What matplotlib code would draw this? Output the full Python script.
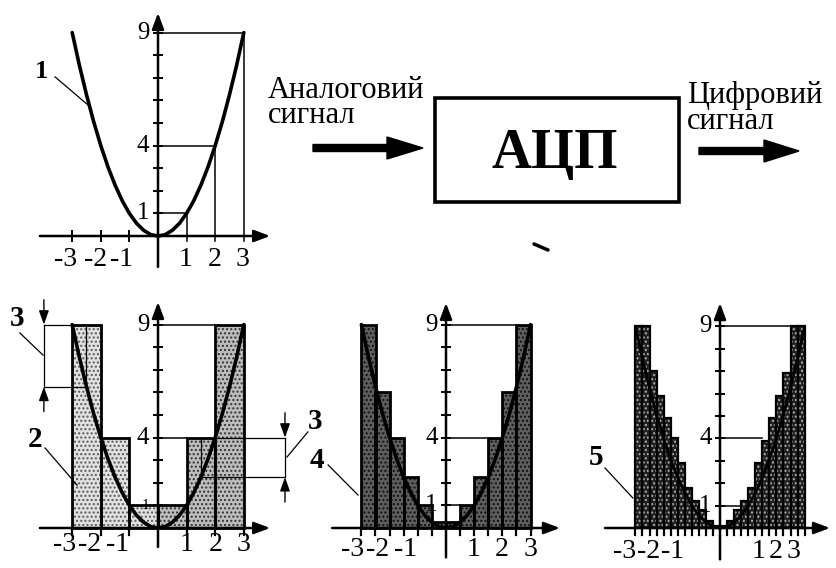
import matplotlib
matplotlib.use('Agg')
import matplotlib.pyplot as plt
from matplotlib.patches import Rectangle, FancyArrow

plt.rcParams['font.family'] = ['Liberation Serif', 'DejaVu Serif']
plt.rcParams['hatch.linewidth'] = 1.0

# ---------------- data ----------------
tick_values = [-3, -2, -1, 1, 2, 3]
tick_labels = ['-3', '-2', '-1', '1', '2', '3']
level_labels = [1, 4, 9]
grid_levels = [1, 2, 3, 4, 5, 6, 7, 8, 9]
sample_x = [1, 2, 3]

# analog signal (parabola)
curve_x = [-3, -2.75, -2.5, -2.25, -2, -1.75, -1.5, -1.25, -1, -0.75, -0.5, -0.25, 0,
           0.25, 0.5, 0.75, 1, 1.25, 1.5, 1.75, 2, 2.25, 2.5, 2.75, 3]
curve_y = [9, 7.56, 6.25, 5.06, 4, 3.06, 2.25, 1.56, 1, 0.56, 0.25, 0.06, 0,
           0.06, 0.25, 0.56, 1, 1.56, 2.25, 3.06, 4, 5.06, 6.25, 7.56, 9]

# panel 2: coarse quantisation (step 1)
p2_edges = [-3, -2, -1, 0, 1, 2]
p2_heights = [9, 4, 1, 1, 4, 9]
p2_width = 1.0

# panel 3: step 0.5
p3_edges = [-3, -2.5, -2, -1.5, -1, -0.5, 0, 0.5, 1, 1.5, 2, 2.5]
p3_heights = [9, 6, 4, 2.25, 1, 0.25, 0.25, 1, 2.25, 4, 6, 9]
p3_width = 0.5

# panel 4: step 0.25
p4_edges = [-3, -2.75, -2.5, -2.25, -2, -1.75, -1.5, -1.25, -1, -0.75, -0.5, -0.25,
            0, 0.25, 0.5, 0.75, 1, 1.25, 1.5, 1.75, 2, 2.25, 2.5, 2.75]
p4_heights = [9, 9, 7.0, 5.9, 4.9, 4.0, 2.9, 1.8, 1.2, 0.8, 0.3, 0.1,
              0.1, 0.3, 0.8, 1.2, 1.8, 2.9, 3.9, 4.9, 5.9, 6.9, 9, 9]
p4_width = 0.25

# quantisation error marks (panel 2)
err_x = [-2.5, 1.5]
err_curve = [6.25, 2.25]
err_level = [9, 4]

block_in = ['Аналоговий', 'сигнал']
block_out = ['Цифровий', 'сигнал']
block_title = 'АЦП'

# ---------------- figure ----------------
W, H = 836, 568
fig = plt.figure(figsize=(W / 100, H / 100), dpi=100)
base = fig.add_axes([0, 0, 1, 1])
base.set_xlim(0, W)
base.set_ylim(H, 0)
base.axis('off')


def panel(ox, oy, ux, uy, xlim=(-5.5, 5.8), ylim=(-2.0, 10.8)):
    l = ox + xlim[0] * ux
    r = ox + xlim[1] * ux
    t = oy - ylim[1] * uy
    b = oy - ylim[0] * uy
    ax = fig.add_axes([l / W, 1 - b / H, (r - l) / W, (b - t) / H])
    ax.set_xlim(xlim)
    ax.set_ylim(ylim)
    ax.axis('off')
    return ax


ARW = dict(arrowstyle='-|>,head_length=0.8,head_width=0.3', lw=1.8, color='k',
           shrinkA=0, shrinkB=0, mutation_scale=12)


def frame(ax, xr, yr, ylab_x, xlab_pos, xlab_y, ysizes=(18, 18, 18)):
    ax.annotate('', xy=(xr[1], 0), xytext=(xr[0], 0), arrowprops=ARW,
                annotation_clip=False, zorder=5)
    ax.annotate('', xy=(0, yr[1]), xytext=(0, yr[0]), arrowprops=ARW,
                annotation_clip=False, zorder=5)
    for k in grid_levels:
        ax.plot([-0.16, 0.16], [k, k], color='k', lw=1.4, solid_capstyle='butt',
                zorder=5, clip_on=False)
    for k, s in zip(level_labels, ysizes):
        ax.text(ylab_x, k, str(k), ha='right', va='center', fontsize=s, zorder=6)
    for xp, lab in zip(xlab_pos, tick_labels):
        ax.text(xp, xlab_y, lab, ha='center', va='center', fontsize=20, zorder=6)


def curve(ax, lw=2.6):
    ax.plot(curve_x, curve_y, color='k', lw=lw, solid_joinstyle='round',
            solid_capstyle='round', zorder=4, clip_on=False)


def bars(ax, edges, heights, width, face, dots, lw=2.0):
    ax.bar(edges, heights, width=width, align='edge', color=face, edgecolor=dots,
           hatch='....', linewidth=0, zorder=2)
    ax.bar(edges, heights, width=width, align='edge', fill=False, edgecolor='k',
           linewidth=lw, zorder=3)
    for e in list(edges) + [edges[-1] + width]:
        if e != 0:
            ax.plot([e, e], [0, -0.3], color='k', lw=1.6, zorder=5, clip_on=False)


def guides(ax, edges, heights):
    for L in level_labels:
        end = next(e for e, h in zip(edges, heights) if e >= 0 and h >= 0.95 * L)
        if end > 0:
            ax.plot([0, end], [L, L], color='k', lw=1.1, zorder=4)


def label(ax, txt, pos, frm, to, size=21):
    ax.text(pos[0], pos[1], txt, ha='center', va='center', fontsize=size,
            fontweight='bold', zorder=6)
    ax.plot([frm[0], to[0]], [frm[1], to[1]], color='k', lw=0.9, zorder=6,
            clip_on=False)


# ---- panel 1 : analog signal ----
a1 = panel(158, 236, 28.6, 22.6)
curve(a1)
for xs in sample_x:
    ys = curve_y[curve_x.index(xs)]
    a1.plot([xs, xs], [-0.2, ys], color='k', lw=1.1, zorder=4)
    a1.plot([0, xs], [ys, ys], color='k', lw=1.1, zorder=4)
for xs in tick_values[:3]:
    a1.plot([xs, xs], [-0.2, 0.2], color='k', lw=1.4, zorder=5)
frame(a1, (-4.13, 3.92), (-1.37, 9.87), -0.3,
      [-3.22, -2.2, -1.26, 0.98, 1.99, 2.97], -1.06)
label(a1, '1', (-4.09, 7.26), (-3.6, 7.04), (-2.45, 5.8), size=19)

# ---- panel 2 : step 1 ----
a2 = panel(158, 528, 28.6, 22.6)
bars(a2, p2_edges[:3], p2_heights[:3], p2_width, '#e0e0e0', '#5a5a5a')
bars(a2, p2_edges[3:], p2_heights[3:], p2_width, '#bdbdbd', '#333333')
curve(a2)
guides(a2, p2_edges, p2_heights)
frame(a2, (-4.13, 3.92), (-0.84, 10.0), -0.3,
      [-3.25, -2.38, -1.43, 1.01, 2.0, 3.0], -0.75, ysizes=(11, 18, 18))
dim_x = [-3.99, 4.44]
EA = dict(arrowstyle='-|>,head_length=0.7,head_width=0.25', lw=1.0, color='k',
          shrinkA=0, shrinkB=0, mutation_scale=12)
for xe, yc, yl, xd in zip(err_x, err_curve, err_level, dim_x):
    a2.plot([xe, xe], [yc, yl], color='k', lw=0.9, zorder=4)
    a2.plot([xe, xd], [yl, yl], color='k', lw=0.9, zorder=4, clip_on=False)
    a2.plot([xe, xd], [yc, yc], color='k', lw=0.9, zorder=4, clip_on=False)
    a2.plot([xd, xd], [yc, yl], color='k', lw=0.9, zorder=4, clip_on=False)
    a2.annotate('', xy=(xd, yl), xytext=(xd, yl + 1.1), arrowprops=EA,
                annotation_clip=False)
    a2.annotate('', xy=(xd, yc), xytext=(xd, yc - 1.1), arrowprops=EA,
                annotation_clip=False)
label(a2, '3', (-4.93, 9.29), (-4.83, 8.63), (-4.02, 7.65))
label(a2, '3', (5.49, 4.73), (5.24, 4.25), (4.51, 3.14))
label(a2, '2', (-4.3, 3.9), (-3.95, 3.54), (-2.83, 1.9))

# ---- panel 3 : step 0.5 ----
a3 = panel(446, 528, 28.2, 22.6)
bars(a3, p3_edges, p3_heights, p3_width, '#5e5e5e', '#111111')
curve(a3)
guides(a3, p3_edges, p3_heights)
frame(a3, (-4.04, 4.04), (-1.3, 9.96), -0.3,
      [-3.33, -2.41, -1.42, 0.96, 1.99, 2.98], -0.97)
label(a3, '4', (-4.57, 3.0), (-4.18, 2.79), (-3.12, 1.46))

# ---- panel 4 : step 0.25 ----
a4 = panel(720, 528, 28.2, 22.4)
bars(a4, p4_edges, p4_heights, p4_width, '#202020', '#b0b0b0', lw=1.6)
curve(a4, lw=2.0)
guides(a4, p4_edges, p4_heights)
frame(a4, (-4.08, 3.9), (-1.4, 10.04), -0.3,
      [-3.4, -2.55, -1.67, 1.38, 1.99, 2.59], -1.07)
label(a4, '5', (-4.4, 3.14), (-4.08, 2.68), (-3.09, 1.34))

# ---- block diagram (pixel coordinates) ----
# va='baseline' on multi-line text anchors the last line's baseline
base.text(268, 123, '\n'.join(block_in), ha='left', va='baseline', fontsize=22,
          linespacing=0.81)
base.text(687, 129, '\n'.join(block_out), ha='left', va='baseline', fontsize=22,
          linespacing=0.85)
base.add_patch(FancyArrow(313, 148, 110, 0, width=7, head_width=22, head_length=36,
                          length_includes_head=True, color='k'))
base.add_patch(FancyArrow(699, 151, 100, 0, width=7, head_width=22, head_length=35,
                          length_includes_head=True, color='k'))
base.add_patch(Rectangle((435, 98), 244, 104, fill=False, edgecolor='k', lw=2.6))
base.text(555, 168, block_title, ha='center', va='baseline', fontsize=40,
          fontweight='bold')
base.plot([534, 548], [244, 250], color='k', lw=2.5, solid_capstyle='round')

fig.savefig('out.png', dpi=100)
